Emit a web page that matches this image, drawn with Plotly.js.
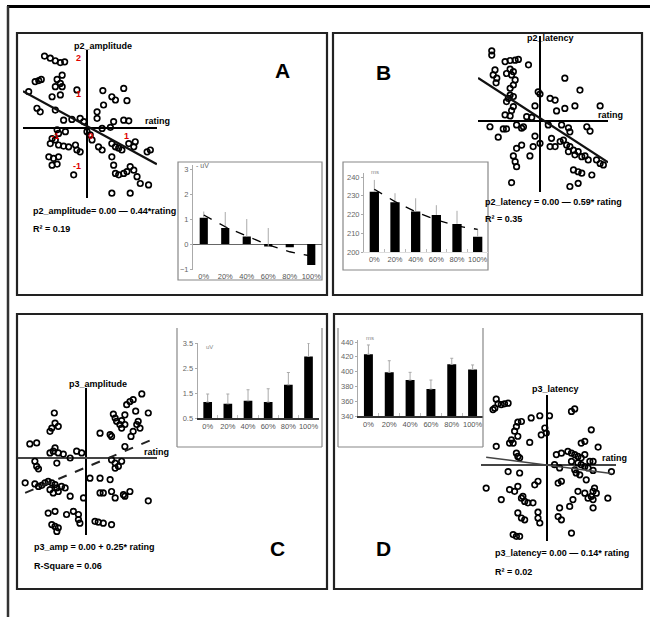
<!DOCTYPE html>
<html><head><meta charset="utf-8">
<script src="https://cdn.plot.ly/plotly-3.0.1.min.js"></script>
<style>html,body{margin:0;padding:0;background:#fff}#chart{width:650px;height:617px}</style>
</head><body><div id="chart"></div><script>
const W=650,H=617;
// ---------- scatter data (standardised units) ----------
const aX=[-1.18,-1.02,-0.88,-0.74,-0.62,-1.44,-1.34,-1.27,-0.83,-0.69,-0.74,-0.88,-0.69,-0.28,-1.62,-0.97,-0.74,-1.39,-1.30,-0.88,-0.65,-0.42,-0.19,-0.09,0.28,0.46,0.28,0.44,0.69,0.79,1.02,1.11,0.74,1.02,1.16,0.42,0.65,-0.83,-0.79,-0.60,-0.97,-0.88,-1.02,-0.79,-0.65,-0.51,-0.32,-0.28,-0.19,-1.06,-0.93,-0.79,-0.97,-0.83,-0.37,0.14,0.32,0.42,0.69,0.79,0.88,0.97,1.16,1.30,1.34,0.69,0.74,0.79,0.88,1.02,1.11,1.20,1.30,1.39,1.48,1.71,1.76,1.67,0.69,1.20,0.09,0.00];
const aY=[1.99,1.93,1.86,1.81,1.83,1.28,1.31,1.34,1.34,1.46,1.23,1.14,1.14,1.05,1.00,0.86,0.91,0.54,0.44,0.49,0.21,0.23,0.26,0.17,0.44,0.63,0.26,1.03,0.86,0.77,1.09,0.75,0.17,0.21,0.19,-0.02,0.01,-0.06,-0.16,-0.11,-0.30,-0.34,-0.44,-0.48,-0.51,-0.53,-0.48,-0.62,-0.67,-0.81,-0.85,-0.81,-1.04,-1.01,-1.31,-0.34,-0.53,-0.62,-0.44,-0.53,-0.57,-0.62,-0.44,-0.53,-0.39,-0.81,-1.04,-1.27,-1.31,-1.27,-1.22,-1.08,-1.18,-1.36,-1.55,-1.59,-0.62,-0.67,-1.82,-1.82,-0.20,-0.11];
const bX=[-1.34,-1.34,-0.97,-0.83,-0.69,-0.60,-0.32,-0.83,-0.74,-0.79,-0.93,-1.25,-1.30,-1.20,-1.22,-0.69,-0.74,-0.83,0.69,1.11,-0.05,0.00,-0.83,-0.88,-0.93,-0.74,0.28,0.42,-0.14,0.46,0.69,0.97,1.67,-0.74,-0.79,-0.97,-0.83,-0.37,-0.23,-1.39,-1.02,-0.93,-0.65,-0.51,-1.16,-0.46,0.23,0.60,0.79,0.83,1.30,1.39,-0.14,0.00,-0.19,-0.28,-0.51,-0.65,-0.74,-0.69,-0.65,-0.79,0.32,0.42,0.56,0.65,0.74,0.83,0.93,0.79,0.97,1.06,1.16,1.25,1.34,1.57,1.67,1.76,0.93,1.06,1.16,1.44,1.06,0.83,0.28];
const bY=[1.95,1.83,1.65,1.68,1.69,1.71,1.56,1.44,1.37,1.28,1.32,1.42,1.28,1.19,1.06,1.14,1.00,0.91,1.19,0.86,0.81,0.75,0.72,0.63,0.54,0.68,0.63,0.58,0.42,0.28,0.35,0.42,0.42,0.40,0.29,0.17,0.14,0.12,0.10,-0.16,-0.22,-0.22,-0.11,-0.20,-0.45,-0.16,-0.11,-0.11,-0.19,-0.30,-0.16,-0.28,-0.42,-0.62,-0.71,-0.97,-0.67,-0.76,-0.97,-1.13,-1.27,-1.71,-0.48,-0.71,-0.57,-0.53,-0.67,-0.71,-0.81,-0.85,-0.94,-0.85,-0.99,-0.97,-1.08,-1.08,-1.18,-1.22,-1.36,-1.41,-1.45,-1.50,-1.73,-1.82,-0.71];
const cX=[1.55,1.31,1.22,1.13,1.38,1.08,1.73,0.76,0.81,0.85,0.99,0.94,1.08,0.99,1.41,1.45,1.31,1.25,1.50,0.39,0.67,0.71,-0.88,-0.86,-0.77,-0.95,-1.00,-1.56,-1.37,-0.86,-0.91,-1.00,-0.77,-0.63,-0.26,-0.44,-0.81,-1.42,-1.37,-1.32,-0.12,0.71,0.81,0.90,0.81,0.99,1.08,-1.69,-1.42,-1.32,-1.23,-1.14,-1.05,-0.95,-0.86,-0.81,-0.77,-0.91,-1.00,-0.68,-0.58,-0.44,0.11,0.39,0.67,0.39,0.48,0.71,1.04,1.22,0.81,1.08,1.73,-0.07,-1.05,-0.86,-0.54,-0.35,-0.21,-0.21,-0.17,-0.95,-0.86,-0.77,-0.81,0.25,0.34,0.48,0.71];
const cY=[1.78,1.62,1.57,1.48,1.30,1.20,1.25,1.22,1.11,1.02,1.04,0.93,0.93,0.83,0.93,1.02,0.74,0.60,0.83,0.69,0.65,0.60,1.25,0.97,0.88,0.83,0.74,0.39,0.42,0.28,0.19,0.14,0.14,0.11,0.19,0.00,-0.14,-0.09,-0.23,-0.30,0.14,-0.05,-0.14,-0.23,-0.28,-0.09,0.32,-0.69,-0.72,-0.79,-0.76,-0.69,-0.65,-0.69,-0.74,-0.83,-0.93,-0.97,-0.88,-0.79,-0.83,-1.06,-0.56,-0.56,-0.60,-0.97,-0.97,-0.93,-1.02,-0.93,-1.11,-1.06,-1.19,-1.11,-1.53,-1.48,-1.57,-1.48,-1.57,-1.71,-1.81,-1.85,-1.90,-1.94,-2.04,-1.76,-1.78,-1.81,-1.85];
const dX=[-1.41,-1.36,-1.27,-1.18,-1.08,-1.50,-1.45,0.68,0.77,-0.44,-0.20,0.07,-0.81,-0.71,-0.85,-0.90,-0.81,-0.99,-1.04,-0.94,-0.16,-0.06,-0.02,-0.48,-1.41,1.23,1.05,0.95,1.42,-0.85,-0.81,-0.76,0.26,0.40,0.58,0.68,0.77,0.86,0.95,1.05,1.19,1.28,0.68,0.86,0.95,1.05,1.14,1.28,0.77,0.81,0.91,1.09,1.79,-1.08,-0.76,0.21,0.35,-1.69,-1.27,-1.04,-0.90,-0.81,-0.25,-0.34,-0.67,-0.62,-0.53,-0.39,-0.71,0.31,0.40,0.86,1.05,1.23,1.28,1.32,1.37,1.14,1.28,1.69,1.28,0.72,0.63,0.35,0.31,0.40,-0.25,-0.25,-0.20,-0.81,-0.71,-0.62,-0.94,-0.85,-0.76,0.68];
const dY=[1.82,1.69,1.67,1.69,1.71,1.53,1.57,1.48,1.55,1.30,1.36,1.36,1.18,1.20,1.06,0.93,0.79,0.69,0.60,0.60,0.83,1.02,0.88,0.62,0.51,0.97,0.65,0.60,0.49,0.32,0.23,0.19,0.28,0.32,0.37,0.32,0.28,0.23,0.19,0.28,0.09,0.09,0.09,0.05,0.00,-0.05,-0.09,-0.16,-0.14,-0.23,-0.28,-0.42,-0.19,-0.19,-0.23,0.00,-0.09,-0.65,-0.97,-0.69,-0.74,-0.60,-0.46,-0.56,-0.88,-1.02,-1.06,-1.06,-0.93,-0.51,-0.46,-0.74,-0.79,-0.88,-0.74,-0.65,-0.79,-0.93,-0.97,-0.93,-1.20,-0.97,-1.16,-1.20,-1.44,-1.53,-1.32,-1.48,-1.62,-1.34,-1.48,-1.53,-1.94,-1.99,-1.99,-1.90];
// regression lines: [intercept, slope], x extent
const fitA=[0.044,-0.545], fitAx=[-1.78,1.94];
const fitB=[0.08,-0.65], fitBx=[-1.72,1.89];
const fitC=[-0.26,0.42], fitCx=[-1.69,1.82];
const fitD=[-0.01,-0.13], fitDx=[-1.69,1.79];
// ---------- inset bar data ----------
const cats=['0%','20%','40%','60%','80%','100%'];
const barA=[1.05,0.64,0.30,-0.10,-0.13,-0.84];
const errA=[0.25,0.64,0.70,0.74,0,0];
const trendA=[1.16,0.69,0.32,-0.04,-0.31,-0.48];
const barB=[232.2,226.6,221.6,219.8,215.0,208.2];
const errB=[6.3,4.8,7.1,5.2,7.0,3.8];
const trendB=[233.5,226.9,221.5,217.1,213.9,212.1];
const barC=[1.14,1.07,1.19,1.14,1.83,2.96];
const errC=[0.32,0.39,0.44,0.53,0.49,0.54];
const barD=[423.4,399.0,388.6,376.5,409.8,403.0];
const errD=[12.6,15.7,10.4,12.1,8.2,6.0];

// ---------- helpers ----------
const FX=v=>v/W, FY=v=>1-v/H;
const FONT='Liberation Sans, Arial, sans-serif';
function scat(x0,x1,ox,y0,y1,oy,ppu,hcol,hw){
  return [
   {domain:[FX(x0),FX(x1)],range:[(x0-ox)/ppu,(x1-ox)/ppu],showgrid:false,zeroline:true,zerolinecolor:'#000',zerolinewidth:2.4,showticklabels:false,ticks:'',showline:false,fixedrange:true},
   {domain:[FY(y1),FY(y0)],range:[(oy-y1)/ppu,(oy-y0)/ppu],showgrid:false,zeroline:true,zerolinecolor:hcol,zerolinewidth:hw,showticklabels:false,ticks:'',showline:false,fixedrange:true}
  ];
}
const sA=scat(23,157,87,50,198,127.7,36,'#000',2.4);
const sB=scat(478,608,540,36,192,121,36,'#000',2.4);
const sC=scat(18,157,86,388,535,458,36,'#444',1.6);
const sD=scat(481,616,547,395,541,464.7,36,'#444',1.6);

function insetX(x0,x1,ax,opts){
  return Object.assign({domain:[FX(x0),FX(x1)],type:'category',showgrid:false,zeroline:false,showline:false,ticks:'',tickangle:0,tickfont:{size:7.5,color:'#555',family:FONT},anchor:ax,fixedrange:true},opts||{});
}
function insetY(y0,y1,range,tv,ax,opts){
  return Object.assign({domain:[FY(y1),FY(y0)],range:range,tickvals:tv,showgrid:false,zeroline:false,showline:true,linecolor:'#aaa',linewidth:1,ticks:'outside',ticklen:2,tickcolor:'#aaa',tickfont:{size:7.5,color:'#666',family:FONT},anchor:ax,fixedrange:true},opts||{});
}

const mk={symbol:'circle-open',size:5.5,color:'#000',line:{width:1.7,color:'#000'}};
function pts(x,y,xa,ya){return {type:'scatter',mode:'markers',x:x,y:y,xaxis:xa,yaxis:ya,marker:mk,cliponaxis:false,hoverinfo:'skip'};}
function fit(f,xr,xa,ya,line){return {type:'scatter',mode:'lines',x:xr,y:xr.map(v=>f[0]+f[1]*v),xaxis:xa,yaxis:ya,line:line,hoverinfo:'skip'};}
function bars(v,e,xa,ya,w,cap){return {type:'bar',x:cats,y:v,xaxis:xa,yaxis:ya,width:w,marker:{color:'#000'},
  error_y:{type:'data',symmetric:false,array:e,arrayminus:v.map(()=>0),color:'#aaa',thickness:1,width:cap},hoverinfo:'skip'};}
function trend(v,xa,ya){return {type:'scatter',mode:'lines',x:cats,y:v,xaxis:xa,yaxis:ya,line:{color:'#000',width:1.3,dash:'dash'},hoverinfo:'skip'};}

const data=[
 pts(aX,aY,'x','y'), fit(fitA,fitAx,'x','y',{color:'#111',width:2.2}),
 pts(bX,bY,'x2','y2'), fit(fitB,fitBx,'x2','y2',{color:'#111',width:2.2}),
 pts(cX,cY,'x3','y3'), fit(fitC,fitCx,'x3','y3',{color:'#222',width:2,dash:'dash'}),
 pts(dX,dY,'x4','y4'), fit(fitD,fitDx,'x4','y4',{color:'#444',width:1.5}),
 bars(barA,errA,'x5','y5',0.38,0), trend(trendA,'x5','y5'),
 bars(barB,errB,'x6','y6',0.45,0), trend(trendB,'x6','y6'),
 bars(barC,errC,'x7','y7',0.43,1.5),
 bars(barD,errD,'x8','y8',0.43,1.5)
];

// ---------- annotations ----------
const ann=[];
function T(text,x,y,size,opt){ann.push(Object.assign({text:text,x:FX(x),y:FY(y),xref:'paper',yref:'paper',showarrow:false,xanchor:'left',yanchor:'middle',font:{family:FONT,size:size,color:'#000'}},opt||{}));}
function B(t){return '<b>'+t+'</b>';}
// panel letters
T(B('A'),273,71,21); T(B('B'),374,72,21); T(B('C'),268,548,21); T(B('D'),374,548,21);
// axis names
T(B('p2_amplitude'),72,46,9); T(B('rating'),143,121,9);
T(B('p2_latency'),525,38,9); T(B('rating'),596,115,9);
T(B('p3_amplitude'),67,384,9); T(B('rating'),142,452,9);
T(B('p3_latency'),530,389,9); T(B('rating'),600,458,9);
// equations
T(B('p2_amplitude= 0.00 — 0.44*rating'),31,211,9); T(B('R² = 0.19'),31,229,9);
T(B('p2_latency = 0.00 — 0.59* rating'),483,202,9); T(B('R² = 0.35'),483,219,9);
T(B('p3_amp = 0.00 + 0.25* rating'),32,547,9); T(B('R-Square = 0.06'),32,566,9);
T(B('p3_latency= 0.00 — 0.14* rating'),493,553,9); T(B('R² = 0.02'),493,572,9);
// red tick labels on scatter A (data coordinates)
const redY=[2,1,-1], redX=[-1,0,1];
redY.forEach(v=>ann.push({text:B(String(v)),x:-0.12,y:v-0.05,xref:'x',yref:'y',showarrow:false,xanchor:'right',font:{family:FONT,size:9,color:'#e00000'}}));
redX.forEach(v=>ann.push({text:B(String(v)),x:v+0.1,y:-0.22,xref:'x',yref:'y',showarrow:false,xanchor:'center',font:{family:FONT,size:9,color:'#e00000'}}));
// units
T('- uV',194,166,7,{font:{family:FONT,size:7,color:'#666'}});
T('ms',369,172,6,{font:{family:FONT,size:6,color:'#888'}});
T('uV',204,347,6,{font:{family:FONT,size:6,color:'#888'}});
T('ms',364,338,6,{font:{family:FONT,size:6,color:'#888'}});

// ---------- shapes (frames) ----------
const shp=[];
function R(x0,y0,x1,y1,col,w){shp.push({type:'rect',xref:'paper',yref:'paper',x0:FX(x0),x1:FX(x1),y0:FY(y1),y1:FY(y0),line:{color:col,width:w},fillcolor:'rgba(0,0,0,0)',layer:'below'});}
function L(x0,y0,x1,y1,col,w){shp.push({type:'line',xref:'paper',yref:'paper',x0:FX(x0),x1:FX(x1),y0:FY(y0),y1:FY(y1),line:{color:col,width:w}});}
L(7,6.5,650,6.5,'#000',3);
L(8,6,8,617,'#333',2.5);
R(17,33,327,295,'#222',2.2);
R(333,33,642,295,'#222',2.2);
R(17,314,327,589,'#222',2.2);
R(334,314,642,589,'#222',2.2);
R(178,162,322,280,'#888',1.2);
R(343,162,488,270,'#888',1.2);
L(177,328,177,447,'#888',1.2); L(322,328,322,447,'#888',1.2); L(177,447,322,447,'#888',1.2);
L(338,328,338,447,'#888',1.2); L(483,328,483,447,'#888',1.2); L(338,447,483,447,'#888',1.2);

const layout={
 width:W,height:H,margin:{l:0,r:0,t:0,b:0},paper_bgcolor:'#fff',plot_bgcolor:'rgba(0,0,0,0)',showlegend:false,
 font:{family:FONT},
 xaxis:Object.assign(sA[0],{anchor:'y'}), yaxis:Object.assign(sA[1],{anchor:'x'}),
 xaxis2:Object.assign(sB[0],{anchor:'y2'}), yaxis2:Object.assign(sB[1],{anchor:'x2'}),
 xaxis3:Object.assign(sC[0],{anchor:'y3'}), yaxis3:Object.assign(sC[1],{anchor:'x3'}),
 xaxis4:Object.assign(sD[0],{anchor:'y4'}), yaxis4:Object.assign(sD[1],{anchor:'x4'}),
 xaxis5:insetX(193,322,'y5'),
 yaxis5:insetY(165,270,[-1.04,3.16],[-1,0,1,2,3],'x5',{zeroline:true,zerolinecolor:'#666',zerolinewidth:1}),
 xaxis6:insetX(364,488,'y6',{showline:true,linecolor:'#ddd',ticks:'inside',tickson:'boundaries',ticklen:3,tickcolor:'#bbb'}),
 yaxis6:insetY(173,252,[200,242.2],[200,210,220,230,240],'x6'),
 xaxis7:insetX(197.6,318.6,'y7',{showline:true,linecolor:'#333',linewidth:1.5,ticks:'inside',tickson:'boundaries',ticklen:3,tickcolor:'#bbb'}),
 yaxis7:insetY(343,418,[0.5,3.5],[0.5,1.5,2.5,3.5],'x7',{tickformat:'.1f'}),
 xaxis8:insetX(358,483,'y8',{showline:true,linecolor:'#333',linewidth:1.5,ticks:'inside',tickson:'boundaries',ticklen:3,tickcolor:'#bbb'}),
 yaxis8:insetY(340,416,[340,442.7],[340,360,380,400,420,440],'x8'),
 annotations:ann, shapes:shp
};
Plotly.newPlot('chart',data,layout,{staticPlot:true,displayModeBar:false});
</script></body></html>
